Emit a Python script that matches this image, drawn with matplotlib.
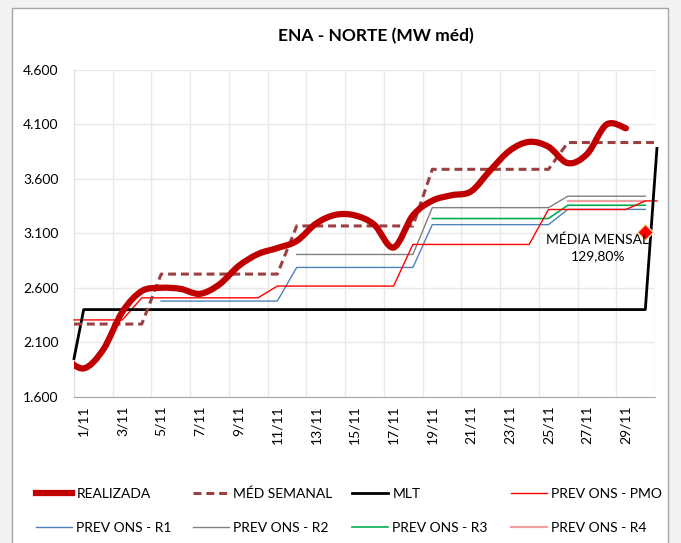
import numpy as np
import matplotlib
matplotlib.use('Agg')
import matplotlib.pyplot as plt
from matplotlib.path import Path
from matplotlib.patches import PathPatch, Rectangle
from matplotlib.lines import Line2D
from matplotlib.ticker import FuncFormatter

plt.rcParams['font.family'] = ['Lato', 'DejaVu Sans']

days = np.arange(1, 31)
day_labels = ['%d/11' % d for d in range(1, 30, 2)]

# realizada, day 0 = last day of october (cut at the axis)
real_days = np.arange(0, 30)
realizada = [1960, 1860, 2030, 2380, 2570, 2600, 2590, 2545, 2630, 2800,
             2910, 2965, 3030, 3190, 3270, 3265, 3180, 2970, 3265, 3400,
             3450, 3485, 3680, 3860, 3940, 3895, 3745, 3830, 4100, 4065]
med_semanal = [2267]*4 + [2726]*7 + [3168]*7 + [3688]*7 + [3934]*5
mlt = [2400]*30
mlt_start, mlt_end = 1950, 3880
nan = np.nan
prev_pmo = [2305]*3 + [2508]*7 + [2616]*7 + [2998]*7 + [3319]*5 + [3398]
prev_r1 = [nan]*4 + [2478]*7 + [2787]*7 + [3180]*7 + [3320]*5
prev_r2 = [nan]*11 + [2906]*7 + [3336]*7 + [3441]*5
prev_r3 = [nan]*18 + [3236]*7 + [3358]*5
prev_r4 = [nan]*25 + [3398]*5
media_mensal = 3115
media_pct = '129,80%'

W, H = 681, 543
fig = plt.figure(figsize=(W/100, H/100), dpi=100, facecolor='#F2F2F2')
fig.patches.append(Rectangle((12/W, -0.05), 656/W, 1.05 - 8/H, transform=fig.transFigure,
                             facecolor='white', edgecolor='#A6A6A6', lw=1, zorder=-1))
ax = fig.add_axes([74/W, 1-396.7/H, 581/W, 326.7/H])
ax.set_facecolor('white')
ax.patch.set_alpha(0)

XL, XR = 0.5, 30.5
def ext(vals, left=True):
    # carry the first/last value to the edge of the plot
    x = list(days) + [XR + 0.1]
    v = list(vals) + [vals[-1]]
    if left:
        x = [XL] + x
        v = [vals[0]] + v
    return x, v

def smooth_path(x, y):
    # excel style smoothed line (bezier through the points)
    x = np.asarray(x, float); y = np.asarray(y, float)
    n = len(x)
    verts = [(x[0], y[0])]
    codes = [Path.MOVETO]
    for i in range(n-1):
        i0 = max(i-1, 0); i3 = min(i+2, n-1)
        c1 = (x[i] + (x[i+1]-x[i0])/6, y[i] + (y[i+1]-y[i0])/6)
        c2 = (x[i+1] - (x[i3]-x[i])/6, y[i+1] - (y[i3]-y[i])/6)
        verts += [c1, c2, (x[i+1], y[i+1])]
        codes += [Path.CURVE4]*3
    return Path(verts, codes)

c_real = '#C00000'
c_sem = '#9A4040'
c_pmo = '#FF0000'
c_r1 = '#4F81BD'
c_r2 = '#808080'
c_r3 = '#00B050'
c_r4 = '#F0A0A0'
dash = (0, (2.6, 1.6))

ax.plot(days, prev_r1, color=c_r1, lw=1, zorder=3)
ax.plot(days, prev_r2, color=c_r2, lw=1, zorder=3)
ax.plot(days, prev_r3, color=c_r3, lw=1.2, zorder=3)
ax.plot(days, prev_r4, color=c_r4, lw=1.6, zorder=3)
x, v = ext(prev_pmo)
ax.plot(x, v, color=c_pmo, lw=1, zorder=4, clip_on=False)
ax.plot([XL] + list(days) + [XR + 0.1], [mlt_start] + mlt + [mlt_end],
        color='black', lw=2, zorder=4, clip_on=False)
x, v = ext(med_semanal)
ax.plot(x, v, color=c_sem, lw=2.2, ls=dash, zorder=5)
ax.add_patch(PathPatch(smooth_path(real_days, realizada), facecolor='none',
                       edgecolor=c_real, lw=4.5, capstyle='round', zorder=6))
ax.plot([30], [media_mensal], marker='D', ms=8, color='#FF0000',
        mec='#F8E0B0', mew=1, zorder=7, clip_on=False)
ax.text(27.55, 3100, 'MÉDIA MENSAL\n' + media_pct, ha='center', va='top',
        fontsize=10, linespacing=1.45, zorder=8)

ax.set_xlim(XL, XR)
ax.set_ylim(1600, 4600)
ax.set_yticks(np.arange(1600, 4601, 500))
ax.yaxis.set_major_formatter(FuncFormatter(lambda v, p: '{:,.0f}'.format(v).replace(',', '.')))
ax.set_xticks(days[::2])
ax.set_xticklabels(day_labels, rotation=90)
ax.set_xticks(np.arange(XL, XR + 0.1, 2), minor=True)
ax.tick_params(axis='both', which='both', length=0, labelsize=10, colors='black')
ax.tick_params(axis='x', pad=6)
ax.tick_params(axis='y', pad=11)
ax.grid(True, which='major', axis='y', color='#E8E8E8', lw=1)
ax.grid(True, which='minor', axis='x', color='#E8E8E8', lw=1)
ax.set_axisbelow(True)
for s in ['top', 'right']:
    ax.spines[s].set_visible(False)
ax.spines['left'].set_color('#E0E0E0')
ax.spines['bottom'].set_color('#A6A6A6')

fig.text(376/W, 1-36/H, 'ENA - NORTE (MW méd)', ha='center', va='center',
         fontsize=12.5, fontweight='bold')

handles = [
    Line2D([], [], color=c_real, lw=4.5),
    Line2D([], [], color=c_sem, lw=2.2, ls=dash),
    Line2D([], [], color='black', lw=2),
    Line2D([], [], color=c_pmo, lw=1),
    Line2D([], [], color=c_r1, lw=1),
    Line2D([], [], color=c_r2, lw=1),
    Line2D([], [], color=c_r3, lw=1.2),
    Line2D([], [], color=c_r4, lw=1.6),
]
labels = ['REALIZADA', 'MÉD SEMANAL', 'MLT', 'PREV ONS - PMO',
          'PREV ONS - R1', 'PREV ONS - R2', 'PREV ONS - R3', 'PREV ONS - R4']
col_x = [34, 191, 350, 509]
for k in range(4):
    fig.legend([handles[k], handles[k+4]], [labels[k], labels[k+4]],
               loc='upper left', bbox_to_anchor=((col_x[k] - 11)/W, 1-475/H),
               frameon=False, fontsize=10, handlelength=2.6, handletextpad=0.35,
               labelspacing=1.6)

fig.savefig('out.png', dpi=100, facecolor=fig.get_facecolor())
